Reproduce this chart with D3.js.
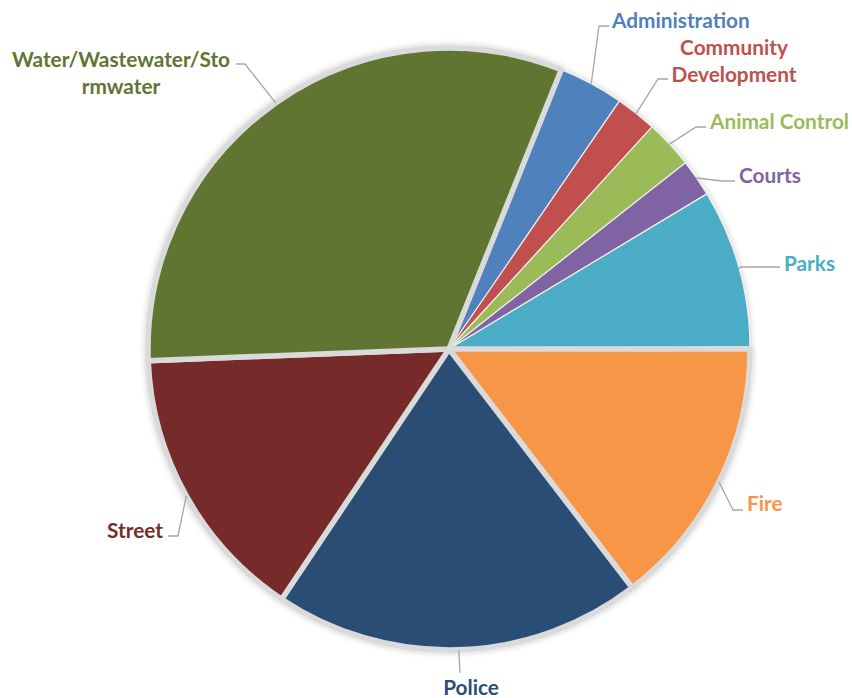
<!DOCTYPE html>
<html>
<head>
<meta charset="utf-8">
<script src="https://cdn.jsdelivr.net/npm/d3@7"></script>
<style>
    body { margin: 0; background: #fff; }
    svg { display: block; }
    .lbl { font-family: Lato, "Open Sans", sans-serif; font-weight: bold; font-size: 20.8px; }
</style>
</head>
<body>
<svg id="chart" width="852" height="698"></svg>
<script>
    // department share of budget, percent
    var categories = ['Administration', 'Community Development', 'Animal Control', 'Courts', 'Parks',
        'Fire', 'Police', 'Street', 'Water/Wastewater/Stormwater'];
    var values = [3.5, 2.2, 2.6, 2.0, 8.6, 14.6, 19.8, 15.0, 31.7];
    var colors = ['#4f81bd', '#c0504d', '#9bbb59', '#8064a2', '#4bacc6',
        '#f79646', '#2c4d75', '#772c2a', '#617431'];
    // label text lines as shown in the chart
    var labelLines = [['Administration'], ['Community', 'Development'], ['Animal Control'], ['Courts'], ['Parks'],
        ['Fire'], ['Police'], ['Street'], ['Water/Wastewater/Sto', 'rmwater']];

    // label layout: text anchor point, elbow of leader, end of leader
    var labelLayout = [
        { tx: 612, ty: 19, anchor: 'start', ex: 599, ey: 26, hx: 609 },
        { tx: 734, ty: 46, anchor: 'middle', ex: 658, ey: 79, hx: 668 },
        { tx: 710, ty: 120, anchor: 'start', ex: 696, ey: 127, hx: 706 },
        { tx: 739, ty: 174, anchor: 'start', ex: 722, ey: 181, hx: 735 },
        { tx: 784, ty: 262, anchor: 'start', ex: 741, ey: 267, hx: 780 },
        { tx: 747, ty: 502, anchor: 'start', ex: 733, ey: 510, hx: 743 },
        { tx: 471, ty: 686, anchor: 'middle', ex: 460, ey: 673, hx: 460 },
        { tx: 163, ty: 529, anchor: 'end', ex: 178, ey: 536, hx: 168 },
        { tx: 121, ty: 58, anchor: 'middle', ex: 245, ey: 64, hx: 236 }
    ];

    var cx = 449, cy = 349, radius = 301;
    var startDeg = 21.9;
    var thickGap = [false, false, false, false, false, true, true, true, true];

    var svg = d3.select('#chart');

    var defs = svg.append('defs');
    var f = defs.append('filter').attr('id', 'shadow')
        .attr('x', '-10%').attr('y', '-10%').attr('width', '120%').attr('height', '120%');
    f.append('feDropShadow').attr('dx', 0).attr('dy', 0).attr('stdDeviation', 3)
        .attr('flood-color', '#000').attr('flood-opacity', 0.22);

    var data = categories.map(function(c, i) {
        return { name: c, value: values[i], color: colors[i], idx: i };
    });

    var pie = d3.pie().sort(null).value(function(d) { return d.value; })
        .startAngle(startDeg * Math.PI / 180)
        .endAngle((startDeg + 360) * Math.PI / 180);
    var arcs = pie(data);

    var arc = d3.arc().innerRadius(0).outerRadius(radius);

    var g = svg.append('g').attr('transform', 'translate(' + cx + ',' + cy + ')');

    // thin-edged slices first, then the ones with wide grey gaps on top
    var order = arcs.slice().sort(function(a, b) {
        return (thickGap[a.data.idx] ? 1 : 0) - (thickGap[b.data.idx] ? 1 : 0);
    });

    var slices = g.append('g').attr('filter', 'url(#shadow)');
    slices.selectAll('path')
        .data(order)
        .enter().append('path')
        .attr('d', arc)
        .attr('fill', function(d) { return d.data.color; })
        .attr('stroke', function(d) { return thickGap[d.data.idx] ? '#dadada' : '#eeeeee'; })
        .attr('stroke-width', function(d) { return thickGap[d.data.idx] ? 5.5 : 1.2; })
        .attr('stroke-linejoin', 'round');

    // leader lines
    var rim = d3.arc().innerRadius(radius).outerRadius(radius);
    var leaders = svg.append('g').attr('fill', 'none').attr('stroke', '#a6a6a6').attr('stroke-width', 1.3);
    arcs.forEach(function(a, i) {
        var p = rim.centroid(a);
        var L = labelLayout[i];
        var pts = [[cx + p[0], cy + p[1]], [L.ex, L.ey], [L.hx, L.ey]];
        leaders.append('path').attr('d', d3.line()(pts));
    });

    // labels
    var labels = svg.append('g');
    arcs.forEach(function(a, i) {
        var L = labelLayout[i];
        var t = labels.append('text')
            .attr('class', 'lbl')
            .attr('fill', a.data.color)
            .attr('text-anchor', L.anchor)
            .attr('dominant-baseline', 'central');
        labelLines[i].forEach(function(line, k) {
            t.append('tspan').attr('x', L.tx).attr('y', L.ty + k * 27).text(line);
        });
    });
</script>
</body>
</html>
